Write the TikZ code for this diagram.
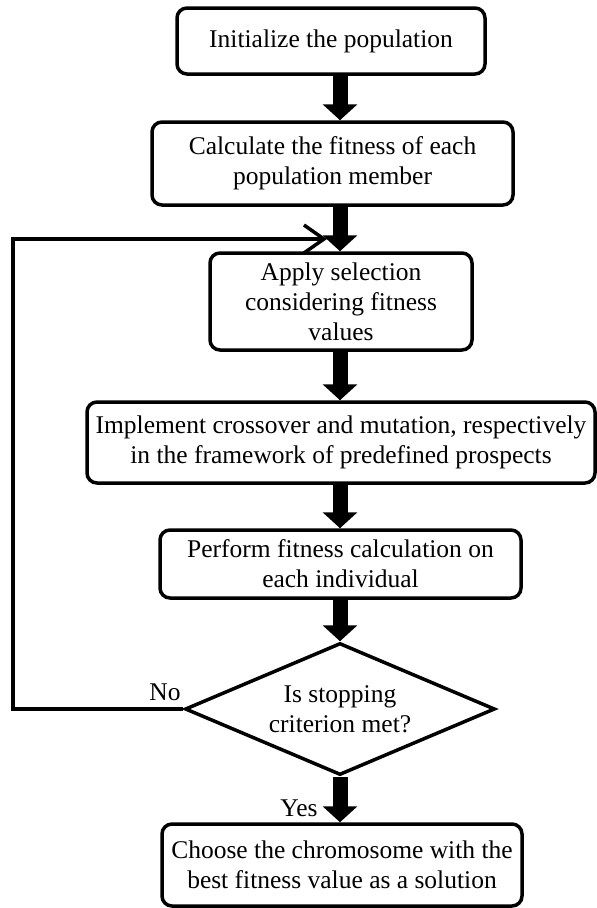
\documentclass[tikz,border=0pt]{standalone}
\usepackage{fontspec}
\setmainfont{Liberation Serif}
\usetikzlibrary{shapes.geometric,arrows.meta,calc}
\begin{document}
\begin{tikzpicture}[x=1pt,y=-1pt,
  txt/.style={font=\fontsize{25.5}{30}\selectfont},
  box/.style={txt, draw, line width=3.5pt, rounded corners=10pt, align=center, inner sep=0pt},
  dec/.style={txt, draw, diamond, shape aspect=2.35, line width=3.5pt, inner sep=0pt, align=center},
  bigarrow/.style={line width=15pt, -{Triangle[width=34pt,length=16pt]}},
  fb/.style={line width=3.5pt, -{Straight Barb[length=20pt,width=28pt]}},
  lbl/.style={txt, inner sep=0pt}
]
\useasboundingbox (0,0) rectangle (597,908);
\fill[white] (0,0) rectangle (597,908);

\node[box, minimum width=308pt, minimum height=66pt] (b1) at (331,41) {Initialize the population};
\node[box, minimum width=361pt, minimum height=83pt] (b2) at (332.5,163.5) {Calculate the fitness of each\\population member};
\node[box, minimum width=262pt, minimum height=97pt] (b3) at (341,301.5) {Apply selection\\considering fitness\\values};
\node[box, minimum width=508pt, minimum height=81pt] (b4) at (341,442.5) {Implement crossover and mutation, respectively\\in the framework of predefined prospects};
\node[box, minimum width=361pt, minimum height=68pt] (b5) at (340.5,564) {Perform fitness calculation on\\each individual};
\node[dec, minimum width=310pt, minimum height=132pt] (dia) at (340,709) {Is stopping\\criterion met?};
\node[box, minimum width=360pt, minimum height=82pt] (b7) at (342,865) {Choose the chromosome with the\\best fitness value as a solution};

\coordinate (ax) at (340,0);
\draw[bigarrow] (b1.south -| ax) -- (b2.north -| ax);
\draw[bigarrow] (b2.south -| ax) -- (b3.north -| ax);
\draw[bigarrow] (b3.south -| ax) -- (b4.north -| ax);
\draw[bigarrow] (b4.south -| ax) -- (b5.north -| ax);
\draw[bigarrow] (b5.south -| ax) -- (dia.north);
\draw[bigarrow] (dia.south) -- (b7.north -| ax);

\coordinate (lp) at (13,239);
\coordinate (fbend) at (327,239);
\draw[fb] (dia.west) -| (lp) -- (fbend);

\node[lbl] (no) at (165,692) {No};
\node[lbl] (yes) at (299,808) {Yes};
\end{tikzpicture}
\end{document}
